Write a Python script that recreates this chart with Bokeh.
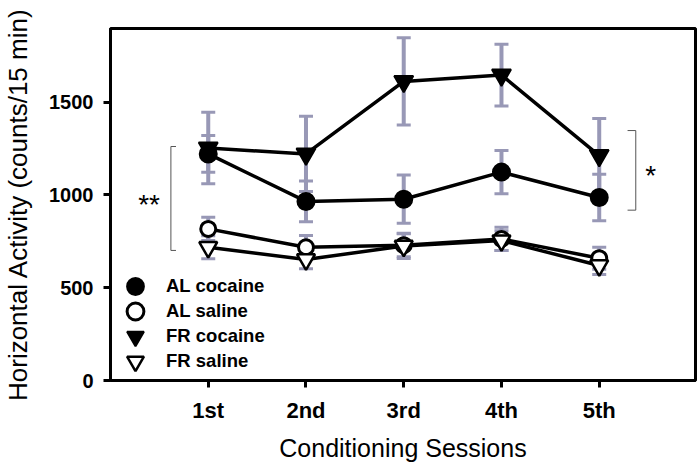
from bokeh.plotting import figure
from bokeh.models import (Range1d, FixedTicker, Whisker, TeeHead, ColumnDataSource,
                          Legend, LegendItem)
from bokeh.embed import file_html
from bokeh.resources import INLINE
from bokeh.core.properties import value

# ---- data ----
sessions = [1, 2, 3, 4, 5]
session_labels = ["1st", "2nd", "3rd", "4th", "5th"]
y_ticks = [0, 500, 1000, 1500]

al_cocaine = [1221, 965, 977, 1123, 986]
al_cocaine_err = [99, 110, 130, 117, 125]
al_saline = [817, 718, 729, 763, 659]
al_saline_err = [63, 63, 62, 63, 59]
fr_cocaine = [1253, 1221, 1612, 1646, 1212]
fr_cocaine_err = [193, 203, 235, 166, 200]
fr_saline = [718, 652, 725, 754, 620]
fr_saline_err = [62, 50, 68, 53, 49]

# significance brackets (x position, tick end, y low, y high, label, label x, label y)
sig_bracket_x = [0.618, 5.374]
sig_tick_x = [0.670, 5.290]
sig_low = [701, 918]
sig_high = [1261, 1347]
sig_text = ["**", "*"]
sig_text_x = [0.395, 5.527]
sig_text_y = [961, 1114]

FONT = "Liberation Sans"
EB = "#9898b6"

p = figure(width=700, height=465, output_backend="svg", toolbar_location=None,
           x_range=Range1d(0, 5.985), y_range=Range1d(0, 1897),
           min_border_left=107, min_border_right=5, min_border_top=28,
           min_border_bottom=85)
p.xgrid.visible = False
p.ygrid.visible = False
p.outline_line_color = "black"
p.outline_line_width = 3
p.background_fill_color = "white"
p.border_fill_color = "white"

# axes
for ax in (p.xaxis[0], p.yaxis[0]):
    ax.axis_line_width = 3
    ax.axis_line_color = "black"
    ax.major_tick_line_width = 3
    ax.major_tick_line_color = "black"
    ax.major_tick_out = 7
    ax.major_tick_in = 0
    ax.minor_tick_line_color = None
    ax.major_label_text_font = FONT
    ax.major_label_text_font_style = "bold"
    ax.major_label_text_color = "black"
    ax.axis_label_text_font = FONT
    ax.axis_label_text_font_style = "normal"
    ax.axis_label_text_color = "black"

p.xaxis.ticker = FixedTicker(ticks=sessions)
p.xaxis.major_label_overrides = dict(zip(sessions, session_labels))
p.xaxis.major_label_text_font_size = "22px"
p.xaxis.major_label_standoff = 10
p.xaxis.axis_label = "Conditioning Sessions"
p.xaxis.axis_label_text_font_size = "25px"
p.xaxis.axis_label_standoff = 8

p.yaxis.ticker = FixedTicker(ticks=y_ticks)
p.yaxis.major_label_text_font_size = "20px"
p.yaxis.major_label_standoff = 10
p.yaxis.axis_label = "Horizontal Activity (counts/15 min)"
p.yaxis.axis_label_text_font_size = "26px"
p.yaxis.axis_label_standoff = 13

series = [
    ("AL cocaine", al_cocaine, al_cocaine_err, "circle", "black", 17, 2),
    ("AL saline", al_saline, al_saline_err, "circle", "white", 15, 3),
    ("FR cocaine", fr_cocaine, fr_cocaine_err, "inverted_triangle", "black", 19, 2),
    ("FR saline", fr_saline, fr_saline_err, "inverted_triangle", "white", 18, 2.5),
]

# error bars
for name, vals, errs, *_ in series:
    src = ColumnDataSource(dict(x=sessions,
                                upper=[v + e for v, e in zip(vals, errs)],
                                lower=[v - e for v, e in zip(vals, errs)]))
    w = Whisker(source=src, base="x", upper="upper", lower="lower",
                line_color=EB, line_width=4,
                upper_head=TeeHead(size=14, line_color=EB, line_width=3),
                lower_head=TeeHead(size=14, line_color=EB, line_width=3))
    p.add_layout(w)

# lines
for name, vals, *_ in series:
    p.line(sessions, vals, line_color="black", line_width=3.5)

# markers, each with its own one-row legend so that rows sit 25px apart
n = len(series)
for i, (name, vals, errs, marker, fill, size, lw) in enumerate(series):
    r = p.scatter(sessions, vals, marker=marker, size=size, fill_color=fill,
                  line_color="black", line_width=lw)
    lg = Legend(items=[LegendItem(label=name, renderers=[r])],
                location=(4, -2 + (n - 1 - i) * 25), orientation="vertical",
                glyph_width=42, glyph_height=42, padding=0, margin=0,
                label_standoff=10, background_fill_alpha=0, border_line_color=None,
                label_text_font=FONT, label_text_font_style="bold",
                label_text_color="black", label_text_font_size="18.5px",
                label_height=20)
    p.add_layout(lg)

# significance brackets
p.segment(x0=sig_bracket_x, y0=sig_low, x1=sig_bracket_x, y1=sig_high,
          line_color="#555555", line_width=1)
p.segment(x0=sig_bracket_x, y0=sig_low, x1=sig_tick_x, y1=sig_low,
          line_color="#555555", line_width=1)
p.segment(x0=sig_bracket_x, y0=sig_high, x1=sig_tick_x, y1=sig_high,
          line_color="#555555", line_width=1)
p.text(x=sig_text_x, y=sig_text_y, text=sig_text, text_font=value(FONT),
       text_font_size="28px", text_align="center", text_baseline="middle",
       y_offset=2, text_color="black")

open("out.html", "w").write(file_html(p, INLINE))
